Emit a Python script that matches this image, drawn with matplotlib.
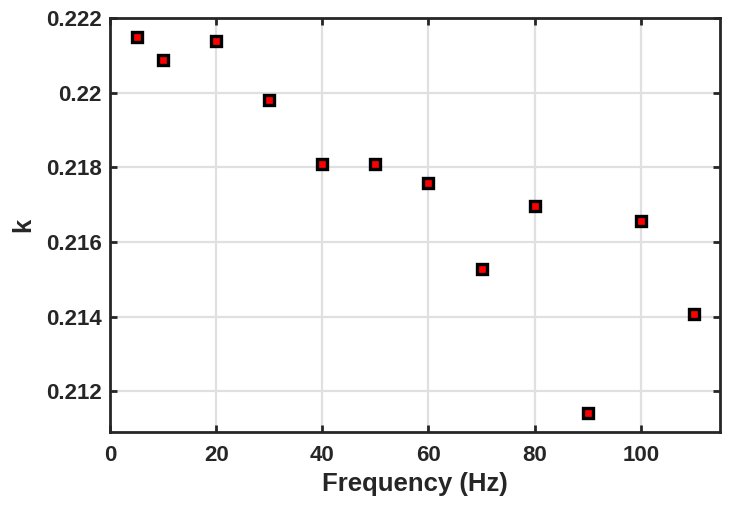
import numpy as np
import matplotlib
matplotlib.use("Agg")
import matplotlib.pyplot as plt
from matplotlib.ticker import FuncFormatter

# veriler
frekans = [5, 10, 20, 30, 40, 50, 60, 70, 80, 90, 100, 110]
k_degeri = [0.22149, 0.22088, 0.22138, 0.21979, 0.21809, 0.21809,
            0.21758, 0.21528, 0.21697, 0.21141, 0.21657, 0.21407]

x_ticks = [0, 20, 40, 60, 80, 100]
y_ticks = [0.212, 0.214, 0.216, 0.218, 0.220, 0.222]

plt.rcParams["font.family"] = ["Liberation Sans", "DejaVu Sans"]
plt.rcParams["font.weight"] = "bold"

fig = plt.figure(figsize=(7.31, 5.14), dpi=100)
ax = fig.add_axes([0.1505, 0.1595, 0.835, 0.8055])

ax.plot(frekans, k_degeri, linestyle="none", marker="s", markersize=7.0,
        markerfacecolor="#ff0000", markeredgecolor="black", markeredgewidth=2.4,
        zorder=3)

ax.set_xlim(0, 115)
ax.set_ylim(0.21091, 0.222)
ax.set_xticks(x_ticks)
ax.set_yticks(y_ticks)
ax.yaxis.set_major_formatter(FuncFormatter(lambda v, p: f"{v:g}"))

ax.grid(True, color="#e0e0e0", linewidth=1.6, zorder=0)
ax.set_axisbelow(True)

for s in ax.spines.values():
    s.set_linewidth(2.0)
    s.set_color("#262626")

ax.tick_params(direction="in", length=5, width=2, colors="#262626",
               top=True, right=True, labelsize=16)
ax.tick_params(axis="x", pad=9)
ax.tick_params(axis="y", pad=6)
for lab in ax.get_xticklabels() + ax.get_yticklabels():
    lab.set_fontweight("bold")

ax.set_xlabel("Frequency (Hz)", fontsize=18.5, fontweight="bold", color="#262626", labelpad=5)
ax.set_ylabel("k", fontsize=18.5, fontweight="bold", color="#262626", labelpad=8)

fig.savefig("out.png", dpi=100)
